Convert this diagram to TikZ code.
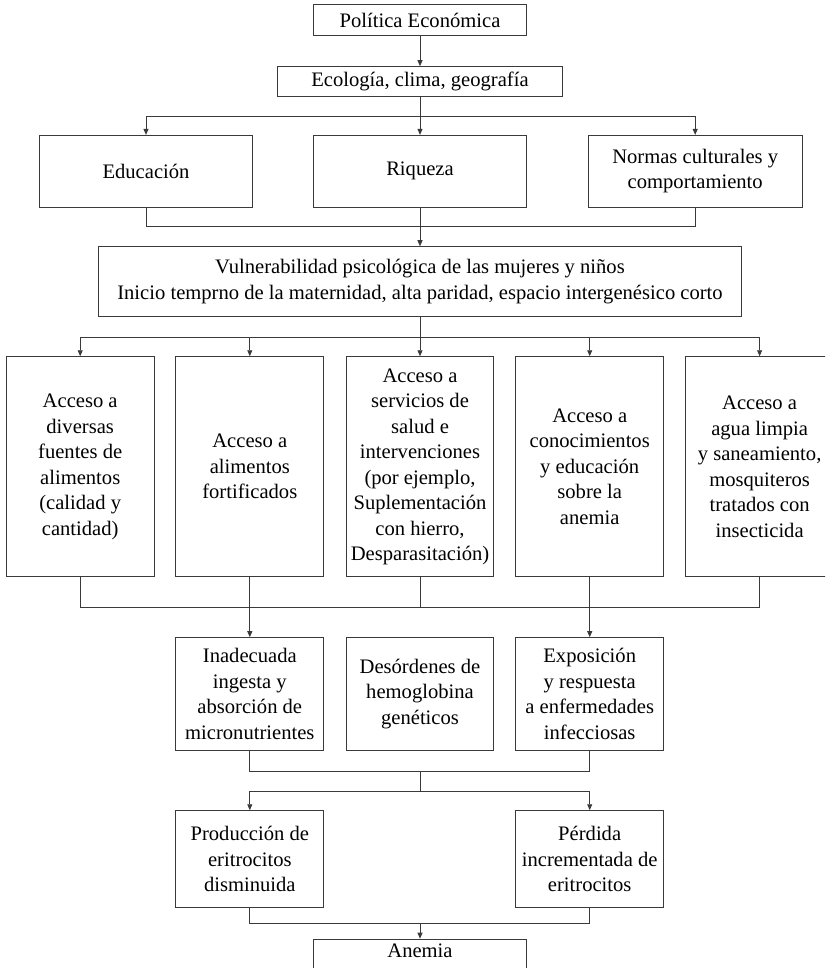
\documentclass[tikz,border=0pt]{standalone}
\usepackage{fontspec}
\setmainfont{Liberation Serif}
\usetikzlibrary{arrows.meta,calc}
\definecolor{ln}{HTML}{3A3A3A}
\begin{document}
\begin{tikzpicture}[x=1pt,y=-1pt,
  box/.style={draw=ln,line width=0.9pt,inner sep=0pt,align=center,
    font=\fontsize{20.6}{25.5}\selectfont},
  smallbox/.style={box,minimum width=213pt,minimum height=30.6pt},
  midbox/.style={box,minimum width=213pt,minimum height=71.7pt},
  colbox/.style={box,minimum width=147.8pt,minimum height=220pt},
  rowbox/.style={box,minimum width=147.8pt,minimum height=112.3pt},
  lowbox/.style={box,minimum width=147.8pt,minimum height=97pt},
  conn/.style={draw=ln,line width=0.9pt},
  arr/.style={conn,-{Triangle[length=6pt,width=5pt]}}]
\useasboundingbox (0,0) rectangle (825,968);
\clip (0,0) rectangle (825,968);
% nodes
\node[smallbox] (pol) at (420,20) {Política Económica};
\node[box,minimum width=284.2pt,minimum height=30.3pt] (eco) at (420,81.8) {Ecología, clima, geografía};
\node[midbox] (edu) at (146,171.2) {Educación};
\node[midbox] (riq) at (420,171.2) {Riqueza};
\node[midbox,minimum width=214.4pt] (nor) at (695.2,171.2) {Normas culturales y\\comportamiento};
\node[box,minimum width=643pt,minimum height=70pt] (vul) at (420,281.7) {Vulnerabilidad psicológica de las mujeres y niños\\Inicio temprno de la maternidad, alta paridad, espacio intergenésico corto};
\node[colbox] (a1) at (80.2,466.7) {Acceso a\\diversas\\fuentes de\\alimentos\\(calidad y\\cantidad)};
\node[colbox] (a2) at (249.8,466.7) {Acceso a\\alimentos\\fortificados};
\node[colbox] (a3) at (420,466.7) {Acceso a\\servicios de\\salud e\\intervenciones\\(por ejemplo,\\Suplementación\\con hierro,\\Desparasitación)};
\node[colbox] (a4) at (589.7,466.7) {Acceso a\\conocimientos\\y educación\\sobre la\\anemia};
\node[colbox] (a5) at (759.6,466.7) {Acceso a\\agua limpia\\y saneamiento,\\mosquiteros\\tratados con\\insecticida};
\node[rowbox] (ina) at (249.8,693.8) {Inadecuada\\ingesta y\\absorción de\\micronutrientes};
\node[rowbox] (des) at (420,693.8) {Desórdenes de\\hemoglobina\\genéticos};
\node[rowbox] (exp) at (589.7,693.8) {Exposición\\y respuesta\\a enfermedades\\infecciosas};
\node[lowbox] (pro) at (249.8,859.2) {Producción de\\eritrocitos\\disminuida};
\node[lowbox] (per) at (589.7,859.2) {Pérdida\\incrementada de\\eritrocitos};
\node[smallbox,anchor=north] (ane) at (420,938.7) {\rule[-8pt]{0pt}{22pt}Anemia};
% junction coordinates
\coordinate (j1) at (420,116.3);
\coordinate (j2) at (420,226.7);
\coordinate (j3) at (420,337.3);
\coordinate (j4) at (420,607.3);
\coordinate (j5) at (420,771.7);
\coordinate (j6) at (420,791.7);
\coordinate (j7) at (420,923);
% connectors
\draw[arr] (pol.south) -- (eco.north);
\draw[arr] (eco.south) -- (riq.north);
\draw[arr] (j1) -| (edu.north);
\draw[arr] (j1) -| (nor.north);
\draw[conn] (edu.south) |- (j2) -| (nor.south);
\draw[arr] (riq.south) -- (vul.north);
\draw[arr] (vul.south) -- (a3.north);
\draw[arr] (j3) -| (a1.north);
\draw[arr] (j3) -| (a2.north);
\draw[arr] (j3) -| (a4.north);
\draw[arr] (j3) -| (a5.north);
\draw[conn] (a1.south) |- (j4) -| (a5.south);
\draw[conn] (a3.south) -- (j4);
\draw[arr] (a2.south) -- (ina.north);
\draw[arr] (a4.south) -- (exp.north);
\draw[conn] (ina.south) |- (j5) -| (exp.south);
\draw[conn] (j5) -- (j6);
\draw[arr] (j6) -| (pro.north);
\draw[arr] (j6) -| (per.north);
\draw[conn] (pro.south) |- (j7) -| (per.south);
\draw[arr] (j7) -- (ane.north);
\end{tikzpicture}
\end{document}
